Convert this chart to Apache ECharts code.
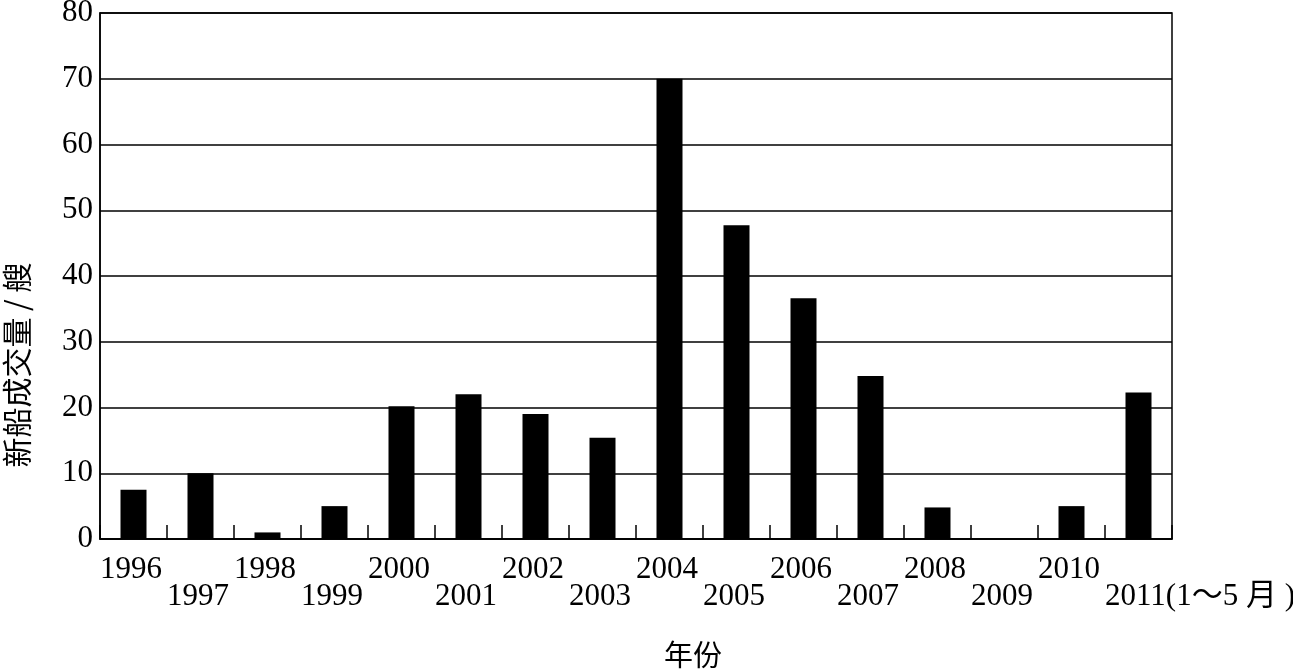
<!DOCTYPE html>
<html>
<head>
<meta charset="utf-8">
<script src="https://cdn.jsdelivr.net/npm/echarts@6/dist/echarts.min.js"></script>
<style>html,body{margin:0;padding:0;background:#fff}#c{width:1293px;height:669px}</style>
</head>
<body>
<div id="c"></div>
<script>
const categories = ['1996','1997','1998','1999','2000','2001','2002','2003','2004','2005','2006','2007','2008','2009','2010','2011(1～5 月 )'];
const values = [7.5, 10, 1, 5, 20.2, 22, 19, 15.4, 70, 47.7, 36.6, 24.8, 4.8, 0, 5, 22.3];
const yTicks = [0, 10, 20, 30, 40, 50, 60, 70, 80];
const yName = '新船成交量 / 艘';
const xName = '年份';

const FONT = "'Liberation Serif', 'Noto Sans CJK SC', serif";
const chart = echarts.init(document.getElementById('c'), null, {renderer: 'canvas'});
chart.setOption({
  animation: false,
  backgroundColor: '#fff',
  grid: {left: 100, right: 121, top: 13, bottom: 130, containLabel: false, outerBoundsMode: 'none',
         show: true, borderColor: '#000', borderWidth: 1.5, backgroundColor: 'transparent'},
  xAxis: [{
    type: 'category',
    data: categories,
    boundaryGap: true,
    axisLine: {show: true, lineStyle: {color: '#000', width: 1.5}},
    axisTick: {show: true, inside: true, interval: 0, length: 14, lineStyle: {color: '#000', width: 1.5}},
    axisLabel: {show: false, interval: 0}
  }, {
    type: 'category',
    position: 'bottom',
    data: categories.concat(['']),
    boundaryGap: false,
    axisLine: {show: false},
    axisTick: {show: false},
    axisLabel: {
      show: true, interval: 0, align: 'left', margin: 16, hideOverlap: false,
      formatter: (v, i) => (i % 2 ? '{b|' + v + '}' : '{a|' + v + '}'),
      rich: {
        a: {fontFamily: FONT, fontSize: 31, color: '#000', lineHeight: 30},
        b: {fontFamily: FONT, fontSize: 31, color: '#000', lineHeight: 84}
      }
    }
  }],
  yAxis: {
    type: 'value', min: yTicks[0], max: yTicks[yTicks.length - 1], interval: yTicks[1] - yTicks[0],
    axisLine: {show: true, lineStyle: {color: '#000', width: 1.5}},
    axisTick: {show: false},
    axisLabel: {color: '#000', fontFamily: FONT, fontSize: 31, margin: 7},
    splitLine: {show: true, lineStyle: {color: '#000', width: 1.5}}
  },
  series: [{
    type: 'bar', xAxisIndex: 0, data: values, barWidth: 26,
    itemStyle: {color: '#000'}
  }],
  graphic: [
    {type: 'text', rotation: Math.PI / 2, x: 17, y: 365,
     style: {text: yName, font: "30px 'Noto Sans CJK SC'", fill: '#000', align: 'center', verticalAlign: 'middle'}},
    {type: 'text', x: 693, y: 655,
     style: {text: xName, font: "29px 'Noto Sans CJK SC'", fill: '#000', align: 'center', verticalAlign: 'middle'}}
  ]
});
</script>
</body>
</html>
